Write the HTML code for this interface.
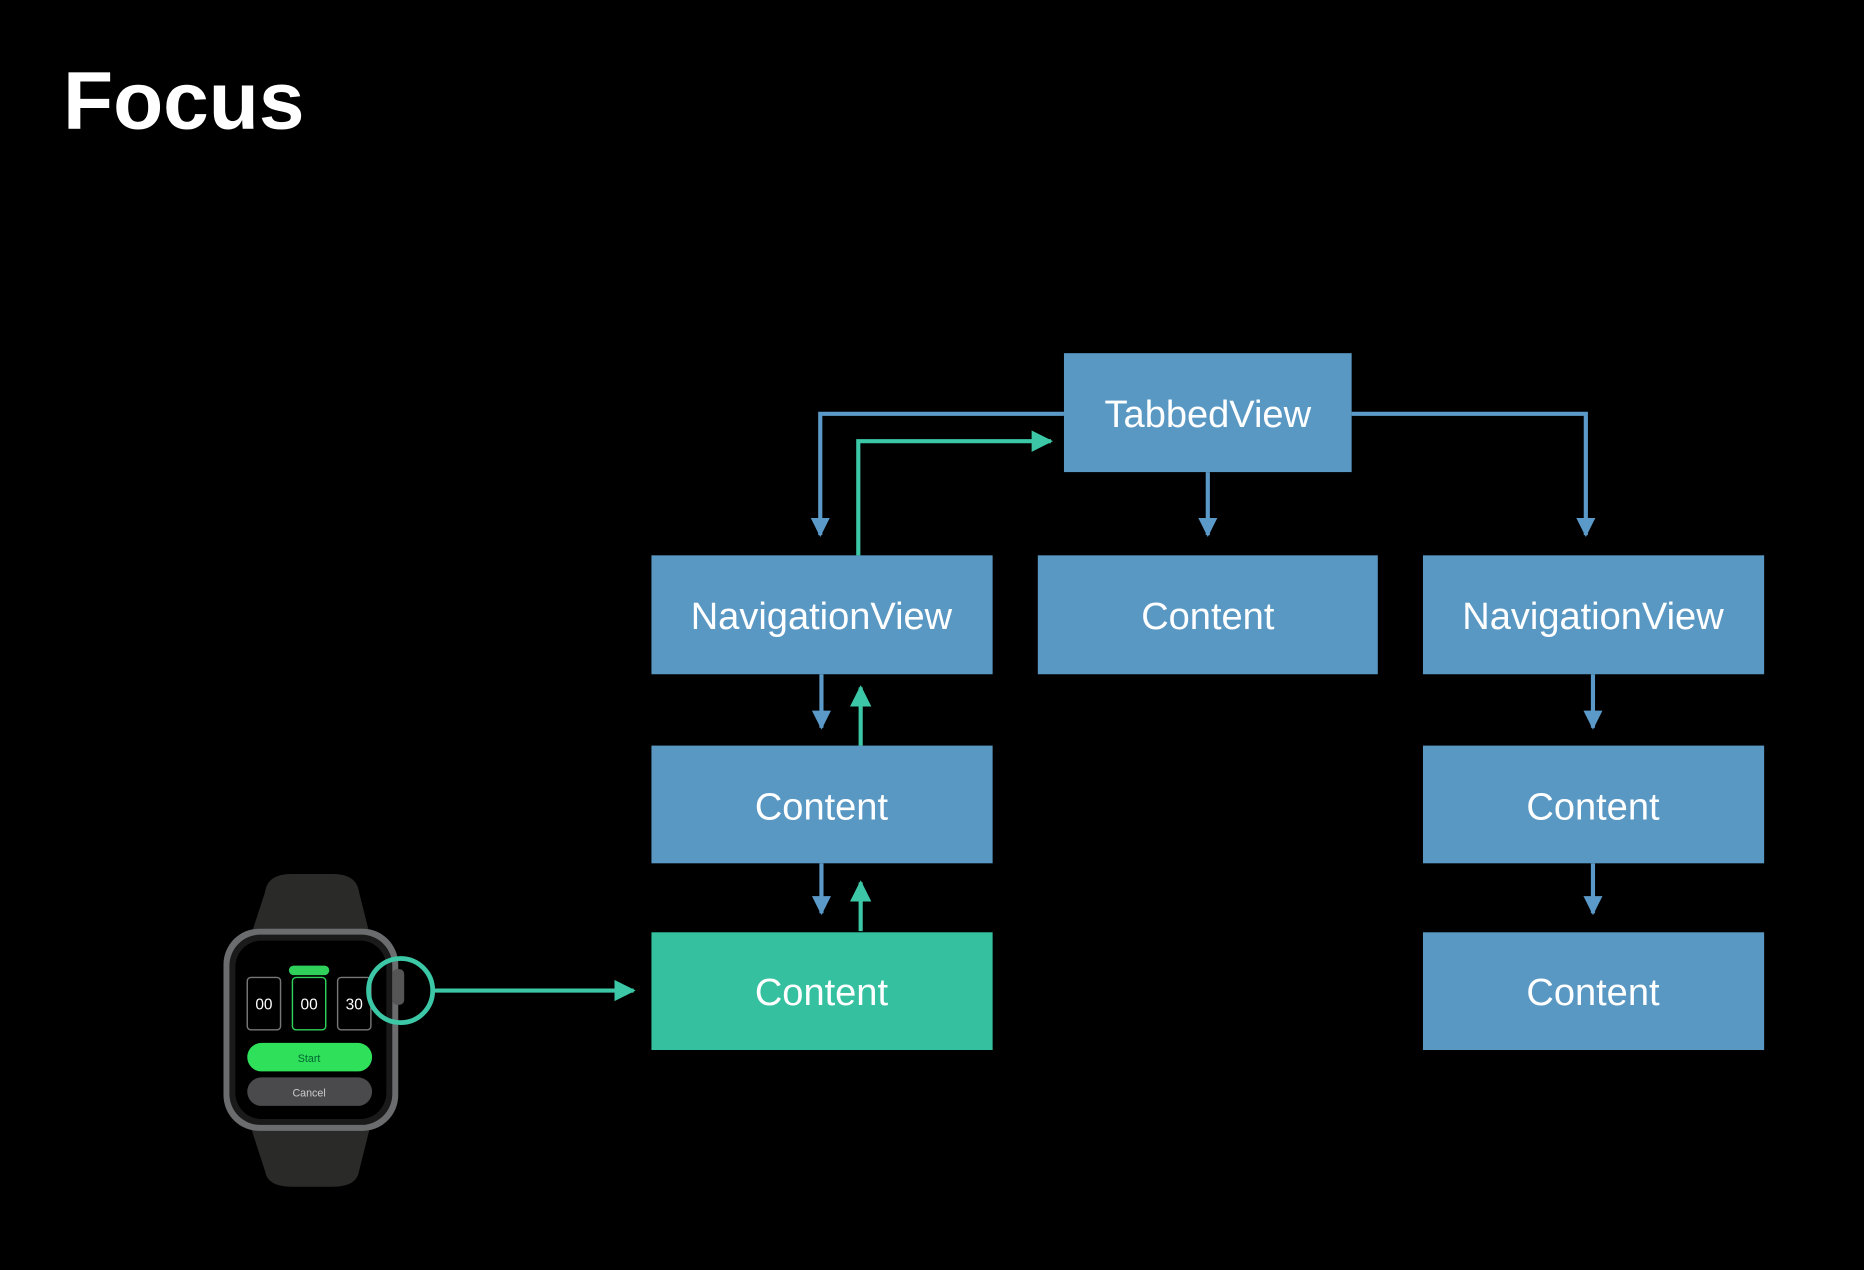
<!DOCTYPE html>
<html><head><meta charset="utf-8"><style>
html,body{margin:0;padding:0;background:#000;}
svg{display:block;}
</style></head><body>
<svg width="1864" height="1270" viewBox="0 0 1568 1068" preserveAspectRatio="none" xmlns="http://www.w3.org/2000/svg">
<rect width="1568" height="1068" fill="#000"/>
<text x="53" y="108" font-family="Liberation Sans, sans-serif" font-weight="bold" font-size="69" fill="#fff">Focus</text>
<defs>
<marker id="ab" viewBox="0 0 10 10" refX="9" refY="5" markerWidth="16" markerHeight="16" markerUnits="userSpaceOnUse" orient="auto"><path d="M0,0 L10,5 L0,10 Z" fill="#5b9ac8"/></marker>
<marker id="ag" viewBox="0 0 10 10" refX="9" refY="5" markerWidth="18" markerHeight="18" markerUnits="userSpaceOnUse" orient="auto"><path d="M0,0 L10,5 L0,10 Z" fill="#3cc8a6"/></marker>
</defs>
<g fill="#5a98c4">
<rect x="895" y="297" width="242" height="100"/>
<rect x="548" y="467" width="287" height="100"/>
<rect x="873" y="467" width="286" height="100"/>
<rect x="1197" y="467" width="287" height="100"/>
<rect x="548" y="627" width="287" height="99"/>
<rect x="1197" y="627" width="287" height="99"/>
<rect x="1197" y="784" width="287" height="99"/>
</g>
<rect x="548" y="784" width="287" height="99" fill="#35c0a0"/>
<g font-family="Liberation Sans, sans-serif" font-size="32" fill="#fff" text-anchor="middle">
<text x="1016" y="359">TabbedView</text>
<text x="691" y="529">NavigationView</text>
<text x="1016" y="529">Content</text>
<text x="1340" y="529">NavigationView</text>
<text x="691" y="689">Content</text>
<text x="1340" y="689">Content</text>
<text x="691" y="845">Content</text>
<text x="1340" y="845">Content</text>
</g>
<g stroke="#5b9ac8" stroke-width="3.5" fill="none">
<path d="M895,348 H690 V450" marker-end="url(#ab)"/>
<path d="M1137,348 H1334 V450" marker-end="url(#ab)"/>
<path d="M1016,397 V450" marker-end="url(#ab)"/>
<path d="M691,567 V612" marker-end="url(#ab)"/>
<path d="M691,726 V768" marker-end="url(#ab)"/>
<path d="M1340,567 V612" marker-end="url(#ab)"/>
<path d="M1340,726 V768" marker-end="url(#ab)"/>
</g>
<g stroke="#3cc8a6" stroke-width="3.5" fill="none">
<path d="M722,467 V371 H884" marker-end="url(#ag)"/>
<path d="M724,627 V578" marker-end="url(#ag)"/>
<path d="M724,783 V742" marker-end="url(#ag)"/>
<path d="M365,833 H533" marker-end="url(#ag)"/>
</g>
<!-- watch -->
<path d="M223,750 Q225,735 245,735 H280 Q300,735 302,750 L312,790 H210 Z" fill="#2a2b28"/>
<path d="M210,945 H312 L302,985 Q300,998 280,998 H245 Q225,998 223,985 Z" fill="#2a2b28"/>
<rect x="188" y="781" width="147" height="170" rx="30" fill="#6a6c6e"/>
<rect x="193" y="786" width="137" height="160" rx="26" fill="#1a1a1a"/>
<rect x="198" y="791" width="127" height="150" rx="22" fill="#000"/>
<rect x="330" y="815" width="10" height="30" rx="4" fill="#555"/>
<rect x="243" y="812" width="34" height="8" rx="4" fill="#2fd15a"/>
<g fill="none" stroke="#777" stroke-width="1.2">
<rect x="208" y="822" width="28" height="44" rx="3"/>
<rect x="284" y="822" width="28" height="44" rx="3"/>
</g>
<rect x="246" y="822" width="28" height="44" rx="3" fill="none" stroke="#2fd15a" stroke-width="1.2"/>
<g font-family="Liberation Sans, sans-serif" font-size="13" fill="#fff" text-anchor="middle">
<text x="222" y="849">00</text><text x="260" y="849">00</text><text x="298" y="849">30</text>
</g>
<rect x="208" y="877" width="105" height="24" rx="12" fill="#2fe05a"/>
<text x="260" y="893" font-family="Liberation Sans, sans-serif" font-size="9" fill="#063" text-anchor="middle">Start</text>
<rect x="208" y="906" width="105" height="24" rx="12" fill="#4a4a4c"/>
<text x="260" y="922" font-family="Liberation Sans, sans-serif" font-size="9" fill="#ccc" text-anchor="middle">Cancel</text>
<circle cx="337" cy="833" r="27" fill="none" stroke="#3cc8a6" stroke-width="4"/>
</svg>
</body></html>
